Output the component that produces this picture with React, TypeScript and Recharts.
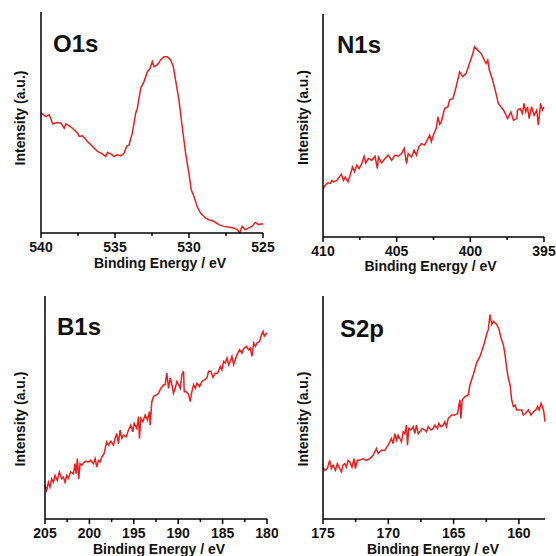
import React from "react";
import { LineChart, Line, XAxis, YAxis } from "recharts";

const FONT = "Arial, 'Liberation Sans', Helvetica, sans-serif";
const RED = "#e8201c";

// O1s
const o1sEnergy = [
  540.0, 539.66, 539.44, 539.21, 538.88, 538.65, 538.43, 538.32, 538.09, 537.87,
  537.53, 537.42, 537.19, 536.86, 536.63, 536.41, 536.18, 535.85, 535.62, 535.51,
  535.28, 535.06, 534.84, 534.61, 534.39, 534.21, 534.05, 533.83, 533.6, 533.49,
  533.26, 533.04, 532.81, 532.63, 532.48, 532.37, 532.14, 531.92, 531.69, 531.47,
  531.24, 531.06, 530.91, 530.68, 530.46, 530.23, 530.01, 529.85, 529.67, 529.45,
  529.22, 528.89, 528.66, 528.32, 527.99, 527.65, 527.2, 526.98, 526.75, 526.57,
  526.41, 526.19, 525.97, 525.74, 525.52, 525.29, 525.0,
];
const o1sIntensity = [
  54.2, 52.7, 53.5, 49.4, 50.0, 49.7, 47.4, 49.4, 48.5, 47.4,
  45.2, 43.7, 44.0, 41.4, 39.9, 38.4, 36.9, 35.8, 34.6, 36.4,
  35.8, 34.6, 35.4, 34.9, 36.1, 39.2, 39.9, 45.2, 54.2, 56.5,
  65.5, 68.5, 73.0, 74.5, 77.6, 75.3, 76.1, 78.3, 79.8, 79.8,
  78.3, 75.3, 69.3, 60.2, 48.2, 36.1, 27.1, 19.6, 16.6, 12.0,
  9.0, 6.8, 6.0, 5.3, 3.8, 3.0, 2.6, 2.3, 1.5, 0.2,
  3.0, 1.5, 2.3, 3.0, 4.8, 3.8, 4.2,
];

// N1s
const n1sEnergy = [
  410.0, 409.84, 409.66, 409.51, 409.39, 409.28, 409.06, 408.76, 408.61, 408.49,
  408.31, 408.16, 408.0, 407.86, 407.71, 407.55, 407.37, 407.21, 407.1, 406.92,
  406.69, 406.47, 406.31, 406.24, 406.02, 405.79, 405.57, 405.34, 405.12, 404.89,
  404.67, 404.49, 404.33, 404.22, 403.99, 403.82, 403.66, 403.5, 403.32, 403.1,
  402.87, 402.76, 402.65, 402.47, 402.31, 402.2, 402.08, 401.97, 401.75, 401.52,
  401.41, 401.18, 400.96, 400.73, 400.51, 400.28, 400.06, 399.83, 399.72, 399.5,
  399.27, 399.05, 398.93, 398.82, 398.71, 398.49, 398.26, 398.1, 397.92, 397.74,
  397.47, 397.25, 397.07, 396.84, 396.8, 396.62, 396.46, 396.35, 396.24, 396.12,
  396.01, 395.85, 395.67, 395.49, 395.38, 395.23, 395.11, 395.0,
];
const n1sIntensity = [
  21.7, 23.2, 24.3, 24.0, 25.4, 24.7, 25.4, 28.1, 25.4, 26.9,
  24.7, 27.7, 31.4, 29.2, 32.2, 30.7, 32.9, 36.2, 33.2, 35.2,
  34.4, 36.2, 30.7, 35.9, 33.2, 35.2, 36.7, 34.4, 36.7, 36.2,
  37.4, 39.7, 32.9, 37.4, 35.9, 38.9, 36.7, 40.4, 41.9, 41.2,
  44.2, 45.7, 42.7, 46.4, 48.7, 53.9, 50.6, 51.6, 57.6, 58.4,
  61.4, 62.1, 67.4, 74.1, 71.9, 73.4, 77.8, 82.3, 85.3, 83.8,
  82.3, 79.3, 77.8, 79.3, 74.9, 70.4, 64.4, 59.9, 58.4, 56.9,
  53.1, 56.1, 52.4, 53.1, 56.9, 57.6, 55.4, 59.9, 56.1, 58.4,
  53.1, 58.4, 54.6, 56.9, 50.1, 59.9, 56.9, 58.4,
];

// B1s
const b1sEnergy = [
  205.0, 204.81, 204.62, 204.44, 204.25, 204.06, 203.87, 203.61, 203.38, 203.12,
  202.93, 202.74, 202.56, 202.37, 202.11, 201.8, 201.62, 201.5, 201.35, 201.2,
  201.05, 200.86, 200.49, 200.11, 199.85, 199.55, 199.36, 199.17, 198.98, 198.8,
  198.61, 198.35, 198.05, 197.86, 197.59, 197.29, 197.11, 196.92, 196.73, 196.54,
  196.35, 196.17, 195.86, 195.6, 195.34, 195.11, 194.96, 194.66, 194.47, 194.36,
  194.21, 193.98, 193.72, 193.46, 193.23, 193.16, 192.97, 192.78, 192.48, 192.22,
  191.95, 191.65, 191.47, 191.28, 191.09, 190.9, 190.71, 190.53, 190.34, 190.15,
  189.96, 189.77, 189.59, 189.4, 189.32, 189.1, 188.83, 188.65, 188.46, 188.27,
  188.08, 187.89, 187.59, 187.33, 187.07, 186.77, 186.58, 186.32, 186.09, 185.83,
  185.56, 185.26, 185.08, 184.89, 184.7, 184.51, 184.32, 184.14, 183.95, 183.76,
  183.57, 183.38, 183.08, 182.82, 182.63, 182.33, 182.07, 181.88, 181.69, 181.5,
  181.31, 181.13, 180.83, 180.68, 180.45, 180.3, 180.0,
];
const b1sIntensity = [
  15.0, 12.8, 16.5, 14.3, 18.0, 16.5, 19.5, 17.3, 21.1, 18.0,
  18.8, 16.5, 19.5, 18.3, 21.1, 20.3, 24.8, 20.3, 27.1, 18.0,
  24.8, 24.1, 25.9, 25.6, 26.3, 24.8, 27.1, 23.3, 26.3, 25.6,
  27.8, 29.3, 34.6, 33.1, 34.9, 33.1, 36.1, 38.3, 33.8, 39.9,
  36.1, 37.6, 36.8, 39.9, 42.1, 39.1, 42.9, 40.6, 45.9, 36.1,
  45.1, 43.6, 46.6, 44.4, 48.1, 42.1, 52.6, 54.9, 55.6, 56.4,
  58.6, 60.2, 60.2, 65.4, 58.6, 63.2, 60.2, 56.4, 58.6, 61.7,
  60.2, 58.6, 64.7, 66.2, 57.1, 57.1, 55.9, 52.6, 57.1, 60.2,
  58.6, 60.9, 59.4, 61.7, 62.4, 63.2, 66.2, 66.2, 63.5, 65.4,
  65.4, 68.4, 66.9, 70.7, 69.9, 72.2, 69.2, 70.7, 72.9, 69.2,
  71.4, 73.7, 75.9, 74.4, 76.4, 77.4, 75.9, 76.7, 72.9, 78.9,
  77.4, 78.9, 79.7, 82.0, 84.2, 82.0, 83.5,
];

// S2p
const s2pEnergy = [
  175.0, 174.87, 174.67, 174.49, 174.36, 174.23, 174.05, 173.9, 173.72, 173.59,
  173.47, 173.34, 173.21, 173.08, 172.95, 172.78, 172.62, 172.52, 172.37, 172.19,
  171.93, 171.68, 171.42, 171.16, 170.91, 170.78, 170.52, 170.27, 170.01, 169.88,
  169.76, 169.63, 169.5, 169.37, 169.25, 169.12, 168.99, 168.86, 168.73, 168.61,
  168.53, 168.43, 168.27, 168.09, 167.97, 167.84, 167.71, 167.58, 167.4, 167.2,
  167.07, 166.94, 166.74, 166.56, 166.43, 166.23, 166.13, 165.97, 165.79, 165.67,
  165.54, 165.41, 165.15, 164.9, 164.69, 164.59, 164.51, 164.44, 164.34, 164.13,
  163.88, 163.75, 163.49, 163.24, 162.98, 162.72, 162.47, 162.34, 162.21, 162.08,
  161.96, 161.7, 161.52, 161.37, 161.19, 161.06, 160.93, 160.81, 160.68, 160.55,
  160.42, 160.29, 160.17, 159.99, 159.78, 159.66, 159.48, 159.27, 159.07, 158.89,
  158.71, 158.56, 158.45, 158.3, 158.2, 158.09, 158.0,
];
const s2pIntensity = [
  23.3, 21.8, 22.6, 26.3, 22.6, 24.1, 21.8, 24.8, 22.6, 21.1,
  24.1, 24.8, 23.3, 26.3, 25.6, 23.3, 27.1, 22.6, 26.3, 26.3,
  27.1, 26.3, 27.1, 28.6, 31.6, 29.3, 30.8, 30.8, 33.1, 34.6,
  36.1, 33.8, 38.3, 35.3, 37.6, 36.1, 34.6, 39.1, 38.3, 42.1,
  33.1, 40.6, 39.9, 41.4, 38.3, 42.1, 38.3, 39.1, 40.6, 39.9,
  39.1, 41.4, 39.9, 40.6, 42.1, 40.6, 42.9, 41.4, 42.1, 43.6,
  41.4, 45.1, 46.6, 46.6, 47.4, 51.1, 53.4, 45.1, 53.4, 54.9,
  55.6, 60.2, 64.7, 69.9, 72.9, 77.4, 82.7, 85.0, 91.7, 87.2,
  88.7, 87.2, 85.0, 81.2, 78.2, 73.7, 67.7, 63.2, 60.2, 53.4,
  50.4, 51.1, 48.9, 48.9, 48.9, 46.6, 47.4, 48.9, 46.6, 48.1,
  48.9, 50.4, 48.9, 51.9, 50.4, 48.1, 43.6,
];

const o1sTicks = [540, 537.5, 535, 532.5, 530, 527.5, 525];
const n1sTicks = [410, 407.5, 405, 402.5, 400, 397.5, 395];
const b1sTicks = [205, 202.5, 200, 197.5, 195, 192.5, 190, 187.5, 185, 182.5, 180];
const s2pTicks = [175, 172.5, 170, 167.5, 165, 162.5, 160];

const toRows = (energy: number[], intensity: number[]) =>
  energy.map((e, i) => ({ e, v: intensity[i] }));

const SIZE = 278;

function Panel(props: any) {
  const {
    title, energy, intensity, domain, ticks, left, top, yAxisWidth,
    marginTop, marginRight, xAxisHeight, yLabelX, yLabelShift,
    titleX, titleY, xLabelOffset, xLabelDx,
  } = props;
  const axisY = SIZE - xAxisHeight;

  const renderTick = (p: any) => {
    const value = p.payload.value;
    const major = value % 5 === 0;
    return (
      <g>
        <line x1={p.x} x2={p.x} y1={axisY} y2={axisY + (major ? 5 : 3)} stroke="#000" strokeWidth={1.5} />
        {major && (
          <text x={p.x} y={axisY + 9} dy="0.71em" textAnchor="middle"
            fontFamily={FONT} fontWeight="bold" fontSize={14} fill="#111">
            {value}
          </text>
        )}
      </g>
    );
  };

  const renderYLabel = (p: any) => {
    const vb = p.viewBox;
    const cx = yLabelX;
    const cy = vb.y + vb.height / 2 + yLabelShift;
    return (
      <text x={cx} y={cy} dy="0.355em" textAnchor="middle" transform={`rotate(-90 ${cx} ${cy})`}
        fontFamily={FONT} fontWeight="bold" fontSize={14} fill="#111">
        Intensity (a.u.)
      </text>
    );
  };

  return (
    <div style={{ position: "absolute", left, top, width: SIZE, height: SIZE }}>
      <LineChart
        width={SIZE}
        height={SIZE}
        data={toRows(energy, intensity)}
        margin={{ top: marginTop, right: marginRight, left: 0, bottom: 0 }}
      >
        <XAxis
          xAxisId="b"
          dataKey="e"
          type="number"
          domain={domain}
          reversed
          ticks={ticks}
          interval={0}
          height={xAxisHeight}
          tick={renderTick}
          tickLine={false}
          axisLine={{ stroke: "#000", strokeWidth: 1.5 }}
          label={{
            value: "Binding Energy / eV",
            position: "insideTop",
            offset: xLabelOffset,
            dx: xLabelDx,
            fontFamily: FONT,
            fontWeight: "bold",
            fontSize: 14,
            fill: "#111",
          }}
        />
        <XAxis
          xAxisId="t"
          dataKey="e"
          type="number"
          domain={domain}
          reversed
          orientation="top"
          height={0}
          tick={false}
          tickLine={false}
          axisLine={{ stroke: "#000", strokeWidth: 1.5 }}
        />
        <YAxis
          yAxisId="l"
          type="number"
          domain={[0, 100]}
          width={yAxisWidth}
          tick={false}
          tickLine={false}
          axisLine={{ stroke: "#000", strokeWidth: 1.5 }}
          label={{ value: "Intensity (a.u.)", content: renderYLabel }}
        />
        <YAxis
          yAxisId="r"
          type="number"
          domain={[0, 100]}
          orientation="right"
          width={0}
          tick={false}
          tickLine={false}
          axisLine={{ stroke: "#000", strokeWidth: 1.5 }}
        />
        <Line
          xAxisId="b"
          yAxisId="l"
          type="linear"
          dataKey="v"
          stroke={RED}
          strokeWidth={1.5}
          dot={false}
          isAnimationActive={false}
        />
        <text x={titleX} y={titleY} fontFamily={FONT} fontWeight="bold" fontSize={24} fill="#111">
          {title}
        </text>
      </LineChart>
    </div>
  );
}

export default function App() {
  return (
    <div style={{ position: "absolute", left: 0, top: 0, width: 556, height: 556, overflow: "hidden", background: "#fff" }}>
      <Panel title="O1s" energy={o1sEnergy} intensity={o1sIntensity} domain={[525, 540]} ticks={o1sTicks}
        left={0} top={0} yAxisWidth={41} marginTop={12} marginRight={15} xAxisHeight={45}
        yLabelX={20} yLabelShift={-4.5} titleX={53} titleY={52} xLabelOffset={25} xLabelDx={8} />
      <Panel title="N1s" energy={n1sEnergy} intensity={n1sIntensity} domain={[395, 410]} ticks={n1sTicks}
        left={278} top={0} yAxisWidth={45} marginTop={14} marginRight={12} xAxisHeight={41}
        yLabelX={25} yLabelShift={-8} titleX={59} titleY={53} xLabelOffset={24} xLabelDx={-3} />
      <Panel title="B1s" energy={b1sEnergy} intensity={b1sIntensity} domain={[180, 205]} ticks={b1sTicks}
        left={0} top={278} yAxisWidth={45} marginTop={18} marginRight={11} xAxisHeight={37}
        yLabelX={20} yLabelShift={11.5} titleX={57} titleY={57} xLabelOffset={25} xLabelDx={3} />
      <Panel title="S2p" energy={s2pEnergy} intensity={s2pIntensity} domain={[158, 175]} ticks={s2pTicks}
        left={278} top={278} yAxisWidth={45} marginTop={18} marginRight={11} xAxisHeight={37}
        yLabelX={25} yLabelShift={11.5} titleX={62} titleY={59} xLabelOffset={25} xLabelDx={-1} />
    </div>
  );
}
